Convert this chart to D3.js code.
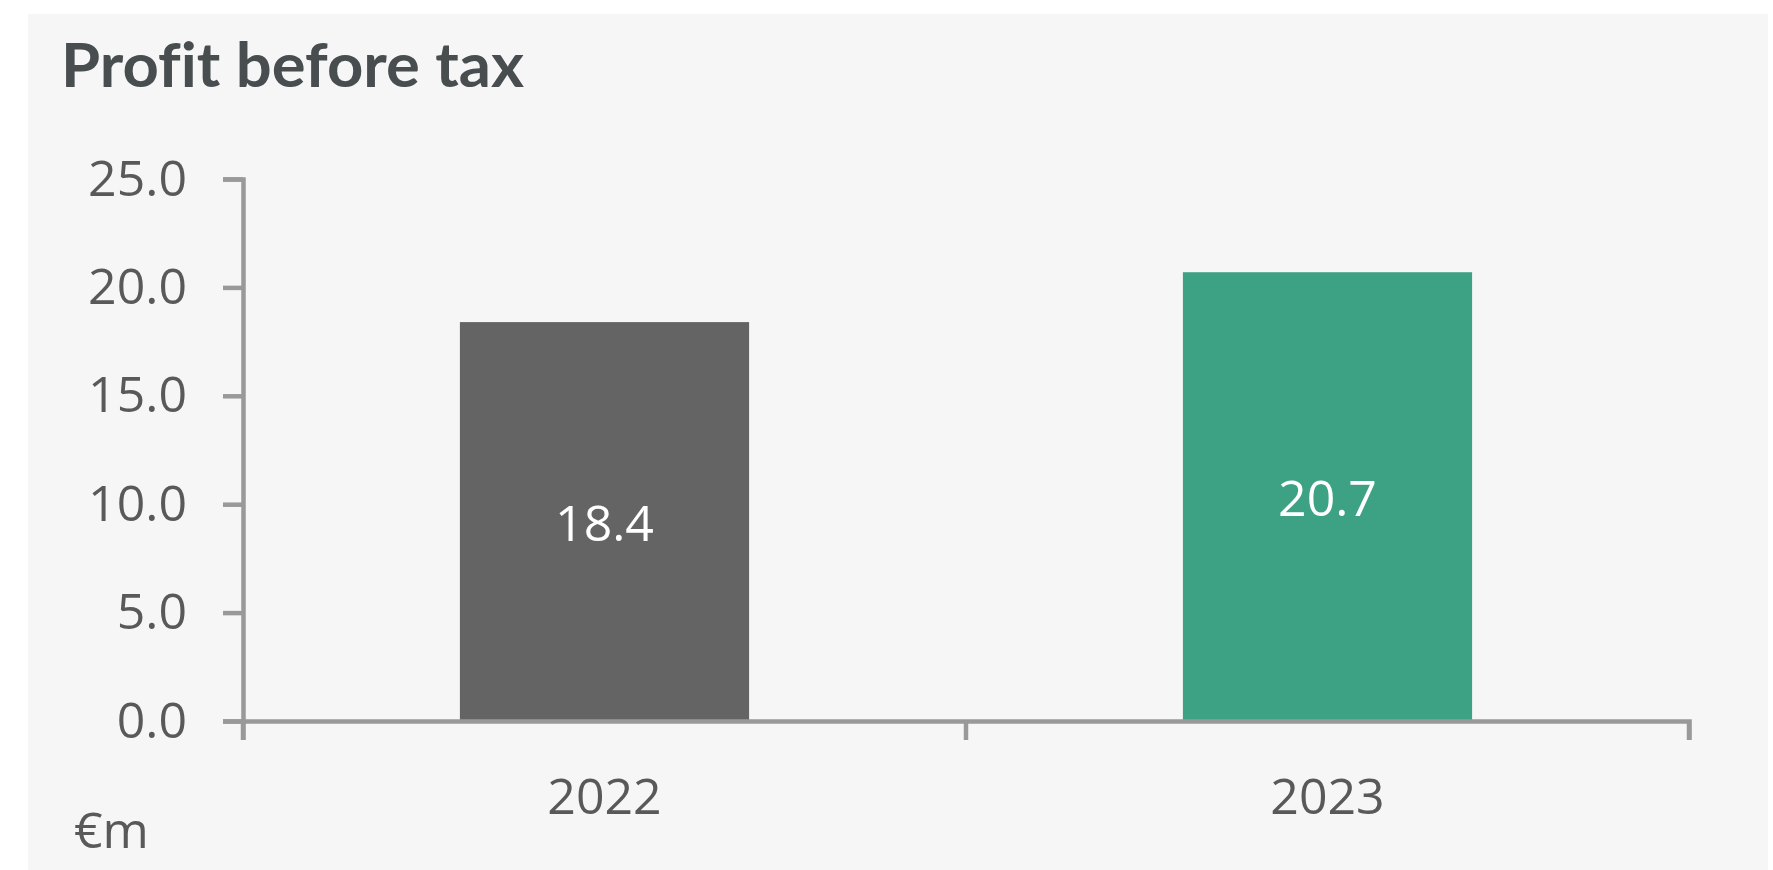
<!DOCTYPE html>
<html>
<head>
<meta charset="utf-8">
<script src="https://cdn.jsdelivr.net/npm/d3@7"></script>
<style>
  body { margin: 0; background: #ffffff; }
  svg { display: block; font-family: "Open Sans", sans-serif; }
</style>
</head>
<body>
<svg id="chart"></svg>
<script>
// data
const years = ["2022", "2023"];
const profit = [18.4, 20.7];
const barColors = ["#646464", "#3ca283"];
const yTicks = [0, 5, 10, 15, 20, 25];

const width = 1773;
const height = 870;
const margin = {'top': 179, 'right': 84, 'bottom': 149, 'left': 243};

const svg = d3.select('svg#chart')
  .attr('width', width)
  .attr('height', height);

// panel background
svg.append('rect')
  .attr('x', 28).attr('y', 14)
  .attr('width', 1740).attr('height', 856)
  .attr('fill', '#f6f6f6');

// title (the original face is narrow, so squeeze it to the same width)
svg.append('text')
  .attr('x', 61).attr('y', 87)
  .attr('font-family', 'Lato, "Open Sans", sans-serif')
  .attr('font-size', '62px')
  .attr('font-weight', 700)
  .attr('fill', '#484e4f')
  .attr('textLength', 463)
  .attr('lengthAdjust', 'spacingAndGlyphs')
  .style('font-variant-ligatures', 'none')
  .text('Profit before tax');

const x = d3.scaleBand()
  .domain(years)
  .range([margin.left, width - margin.right])
  .padding(0);

const y = d3.scaleLinear()
  .domain([0, 25])
  .range([height - margin.bottom, margin.top]);

const axisColor = '#999999';
const labelColor = '#595959';

// bars
const barW = x.bandwidth() * 0.4;
svg.selectAll('rect.bar')
  .data(profit)
  .enter()
  .append('rect')
    .attr('class', 'bar')
    .attr('x', (d, i) => x(years[i]) + (x.bandwidth() - barW) / 2)
    .attr('y', d => y(d))
    .attr('width', barW)
    .attr('height', d => y(0) - y(d))
    .attr('fill', (d, i) => barColors[i]);

// value labels in the middle of the bars
svg.selectAll('text.val')
  .data(profit)
  .enter()
  .append('text')
    .attr('class', 'val')
    .attr('x', (d, i) => x(years[i]) + x.bandwidth() / 2)
    .attr('y', d => (y(d) + y(0)) / 2)
    .attr('dy', '0.38em')
    .attr('text-anchor', 'middle')
    .attr('font-size', '50px')
    .attr('fill', '#ffffff')
    .text(d => d.toFixed(1));

// y axis
const gY = svg.append('g')
  .attr('transform', `translate(${margin.left}, 0)`)
  .call(d3.axisLeft(y)
    .tickValues(yTicks)
    .tickSize(20)
    .tickPadding(36)
    .tickFormat(d3.format('.1f')));

gY.selectAll('text')
  .attr('font-size', '50px')
  .attr('font-family', '"Open Sans", sans-serif')
  .attr('fill', labelColor);

// x axis: labels at band centres
const gX = svg.append('g')
  .attr('transform', `translate(0, ${y(0)})`)
  .call(d3.axisBottom(x).tickSize(19).tickPadding(38));

gX.selectAll('.tick line').remove();
gX.selectAll('text')
  .attr('font-size', '50px')
  .attr('font-family', '"Open Sans", sans-serif')
  .attr('fill', labelColor);

// x axis ticks sit on the band boundaries
const bounds = years.map(d => x(d)).concat([x.range()[1]]);
gX.selectAll('line.bound')
  .data(bounds)
  .enter()
  .append('line')
    .attr('class', 'bound')
    .attr('x1', d => d).attr('x2', d => d)
    .attr('y1', 0).attr('y2', 19);

svg.selectAll('.domain, .tick line, line.bound')
  .attr('stroke', axisColor)
  .attr('stroke-width', 4.5);

// unit label
svg.append('text')
  .attr('x', 74).attr('y', 848)
  .attr('font-size', '50px')
  .attr('fill', labelColor)
  .text('€m');
</script>
</body>
</html>
